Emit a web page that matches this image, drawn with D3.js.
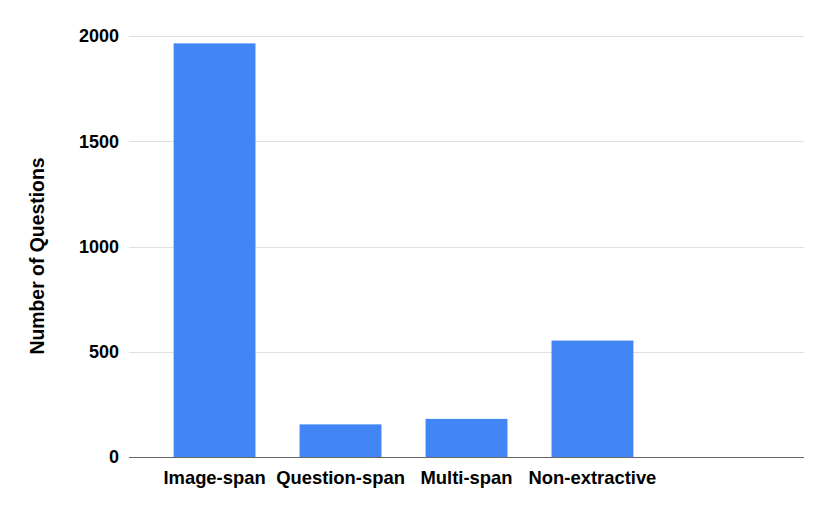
<!DOCTYPE html>
<html>
<head>
<meta charset="utf-8">
<script src="https://cdn.jsdelivr.net/npm/d3@7"></script>
<style>
  body { margin: 0; background: #fff; }
  text { font-family: "Liberation Sans", Arial, sans-serif; font-weight: bold; fill: #000; }
</style>
</head>
<body>
<script>
// categories (the last slot is empty in the original chart)
const categories = ['Image-span', 'Question-span', 'Multi-span', 'Non-extractive', '']
const counts = [1965, 155, 181, 553]
const yTicks = [0, 500, 1000, 1500, 2000]

const width = 830
const height = 513
const margin = { top: 36, right: 26, bottom: 56, left: 129 }

const x = d3.scaleBand()
	.domain(categories)
	.range([margin.left, width - margin.right])
	.paddingInner(0.35)
	.paddingOuter(0.354)

const y = d3.scaleLinear()
	.domain([0, 2000])
	.range([height - margin.bottom, margin.top])

const svg = d3.select('body').append('svg')
	.attr('width', width)
	.attr('height', height)

// gridlines
svg.append('g')
	.selectAll('line')
	.data(yTicks.filter(d => d > 0))
	.enter().append('line')
		.attr('x1', margin.left)
		.attr('x2', width - margin.right)
		.attr('y1', d => Math.round(y(d)) + 0.5)
		.attr('y2', d => Math.round(y(d)) + 0.5)
		.attr('stroke', '#e0e0e0')

// y tick labels
svg.append('g')
	.selectAll('text')
	.data(yTicks)
	.enter().append('text')
		.attr('x', margin.left - 10)
		.attr('y', d => y(d))
		.attr('dy', '0.35em')
		.attr('text-anchor', 'end')
		.style('font-size', '18px')
		.text(d => d)

// bars
svg.append('g')
	.selectAll('rect')
	.data(counts)
	.enter().append('rect')
		.attr('x', (d, i) => x(categories[i]))
		.attr('y', d => y(d))
		.attr('width', x.bandwidth())
		.attr('height', d => y(0) - y(d))
		.attr('fill', '#4285f4')

// baseline
svg.append('line')
	.attr('x1', margin.left)
	.attr('x2', width - margin.right)
	.attr('y1', Math.round(y(0)) + 0.5)
	.attr('y2', Math.round(y(0)) + 0.5)
	.attr('stroke', '#666')

// x labels
svg.append('g')
	.selectAll('text')
	.data(categories)
	.enter().append('text')
		.attr('x', d => x(d) + x.bandwidth() / 2)
		.attr('y', y(0) + 27)
		.attr('text-anchor', 'middle')
		.style('font-size', '18.4px')
		.text(d => d)

// y title
svg.append('text')
	.attr('transform', 'translate(44, 256) rotate(-90)')
	.attr('text-anchor', 'middle')
	.style('font-size', '19.4px')
	.text('Number of Questions')
</script>
</body>
</html>
